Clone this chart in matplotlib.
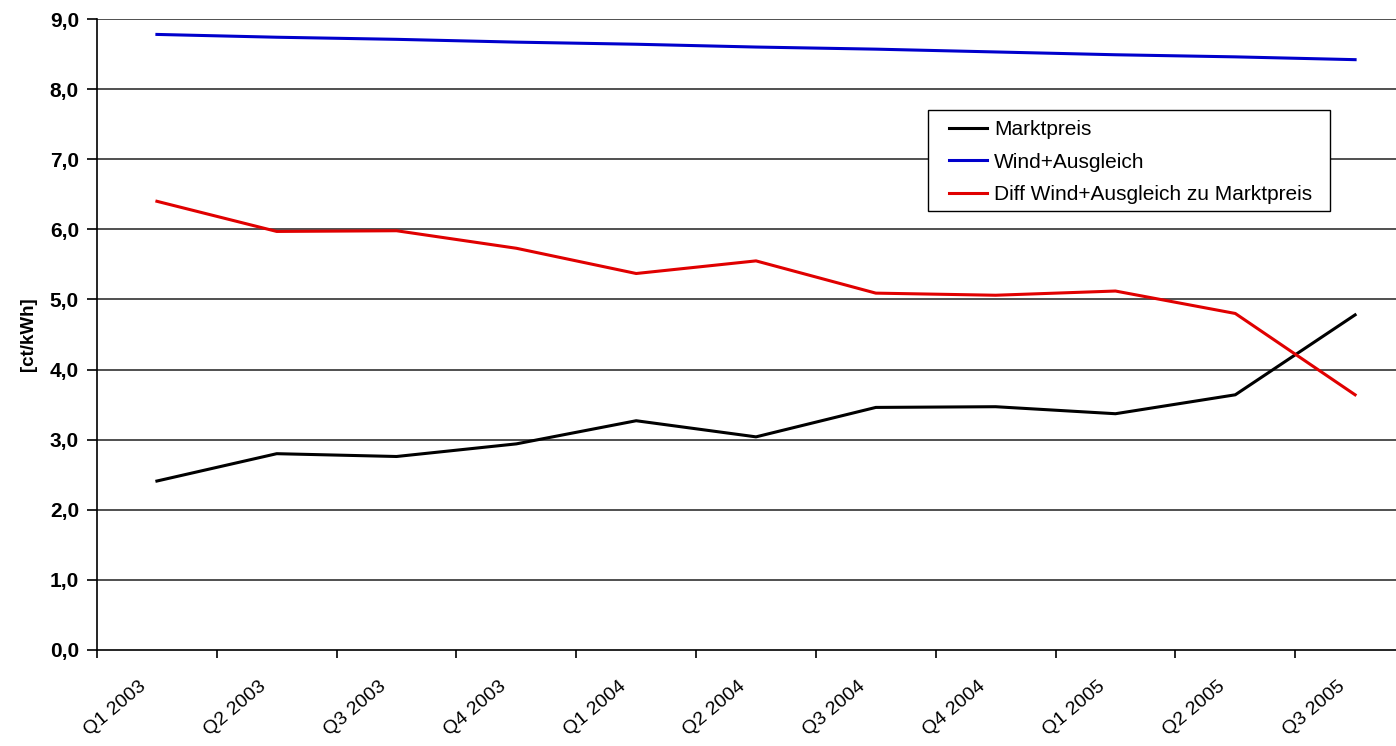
import matplotlib.pyplot as plt
import matplotlib.patches as mpatches
import numpy as np

# Daten
quartale = ['Q1 2003', 'Q2 2003', 'Q3 2003', 'Q4 2003', 'Q1 2004', 'Q2 2004',
            'Q3 2004', 'Q4 2004', 'Q1 2005', 'Q2 2005', 'Q3 2005']
marktpreis = [2.41, 2.80, 2.76, 2.94, 3.27, 3.04, 3.46, 3.47, 3.37, 3.64, 4.78]
wind_ausgleich = [8.78, 8.74, 8.71, 8.67, 8.64, 8.60, 8.57, 8.53, 8.49, 8.46, 8.42]
diff = [6.40, 5.97, 5.98, 5.73, 5.37, 5.55, 5.09, 5.06, 5.12, 4.80, 3.64]

plt.rcParams['font.family'] = ['Liberation Sans', 'DejaVu Sans']

fig = plt.figure(figsize=(13.96, 7.46), dpi=100)
W, H = 1396, 746
# Zeichenflaeche geht rechts ueber den Bildrand hinaus (wie im Original abgeschnitten)
ax = fig.add_axes([97 / W, (H - 650) / H, 1318 / W, 631 / H])

x = np.arange(len(quartale))
ax.plot(x, marktpreis, color='black', lw=2.2, label='Marktpreis', zorder=3)
ax.plot(x, wind_ausgleich, color='#0000cc', lw=2.2, label='Wind+Ausgleich', zorder=3)
ax.plot(x, diff, color='#e00000', lw=2.2, label='Diff Wind+Ausgleich zu Marktpreis', zorder=3)

ax.set_xlim(-0.5, len(quartale) - 0.5)
ax.set_ylim(0, 9)

# Gitterlinien
ax.set_yticks(np.arange(0, 10, 1))
ax.set_yticklabels([f'{v:.1f}'.replace('.', ',') for v in range(10)],
                   fontsize=15, fontweight='bold')
for v in range(1, 10):
    ax.axhline(v, color='#202020', lw=1.1, zorder=1)

# x-Achse: Striche an den Grenzen, Beschriftung in der Mitte
ax.set_xticks(x)
ax.set_xticklabels([])
ax.tick_params(axis='x', which='major', length=0)
ax.set_xticks(np.arange(-0.5, len(quartale) + 0.5, 1), minor=True)
ax.tick_params(axis='x', which='minor', length=6, width=1.2, color='black')
ax.tick_params(axis='y', which='major', length=7, width=1.2, color='black', pad=6)
for xi, lab in zip(x, quartale):
    ax.annotate(lab, xy=(xi, 0), xycoords='data', xytext=(-13, -20),
                textcoords='offset points', rotation=40,
                ha='right', va='top', rotation_mode='anchor', fontsize=14)

ax.set_ylabel('[ct/kWh]', fontsize=13.5, fontweight='bold', labelpad=9)

for s in ['top', 'right']:
    ax.spines[s].set_visible(False)
for s in ['left', 'bottom']:
    ax.spines[s].set_color('black')
    ax.spines[s].set_linewidth(1.2)

# Legendenrahmen separat, damit links mehr Platz ist als oben/unten
rahmen = mpatches.Rectangle(((928 - 97) / 1318, (650 - 211) / 631),
                            (1330 - 928) / 1318, (211 - 110) / 631,
                            transform=ax.transAxes, facecolor='white',
                            edgecolor='black', lw=1.0, zorder=4)
ax.add_patch(rahmen)
leg = ax.legend(loc='upper left', bbox_to_anchor=((949 - 97) / 1318, (650 - 120) / 631),
                borderaxespad=0, borderpad=0, fontsize=15, frameon=False,
                handlelength=1.83, handletextpad=0.34, labelspacing=0.66)
leg.set_zorder(5)

fig.savefig('out.png', dpi=100)
